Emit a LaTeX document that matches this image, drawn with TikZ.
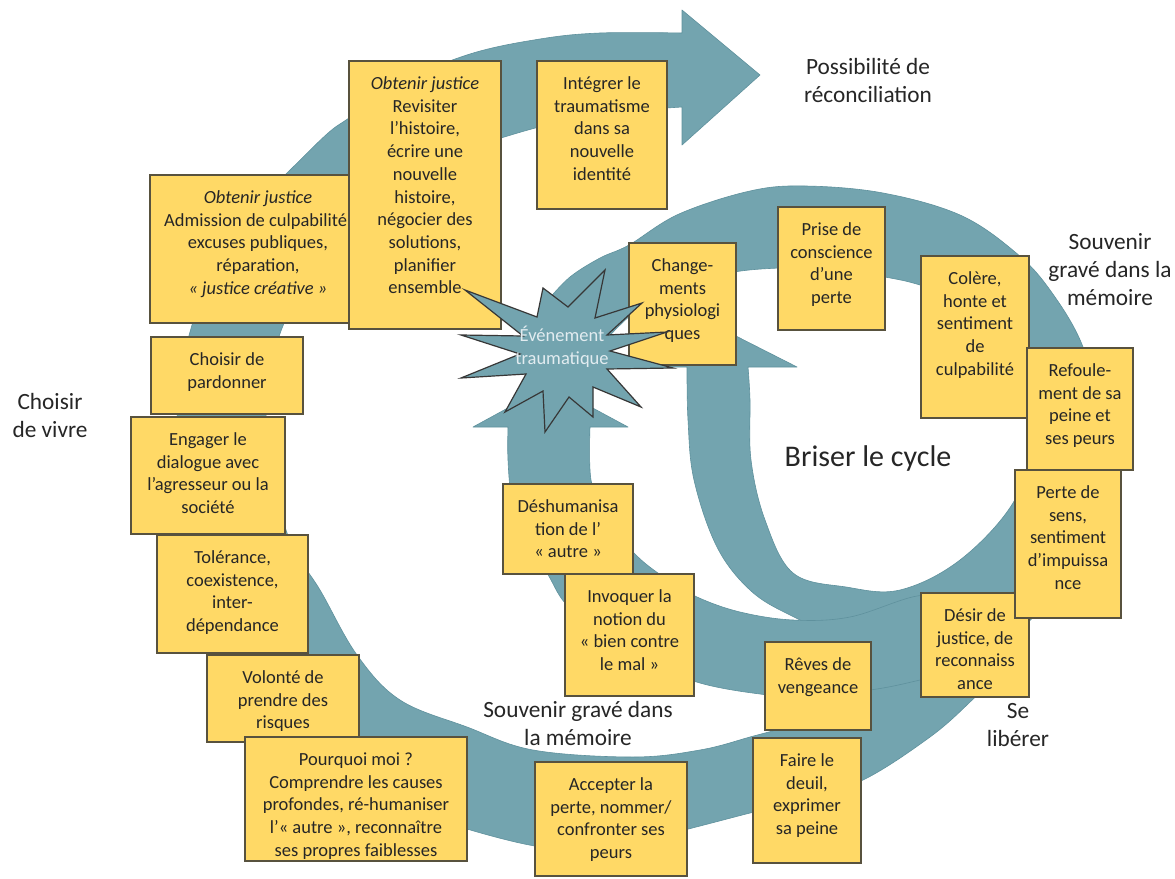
\documentclass[tikz,border=0pt]{standalone}
\usepackage{fontspec}
\setmainfont{Carlito}
\definecolor{teal1}{RGB}{115,164,175}
\definecolor{tealline}{RGB}{95,145,157}
\definecolor{boxfill}{RGB}{255,217,102}
\definecolor{boxline}{RGB}{88,82,62}
\definecolor{txt}{RGB}{38,38,38}
\definecolor{startxt}{RGB}{226,236,240}
\definecolor{starline}{RGB}{55,55,55}
\newcommand\yellowbox[6]{%
  \node[ybox, minimum width={(#4-#2)*1pt}, minimum height={(#5-#3)*1pt}] (#1) at ({(#2+#4)/2},{(#3+#5)/2}) {};
  \node[boxtext, anchor=base] (#1-t) at ([yshift=-28.5pt]#1.north) {\parbox[t]{300pt}{\centering #6}};
}
\begin{document}
\begin{tikzpicture}[x=1pt,y=-1pt,
  band/.style={fill=teal1, draw=tealline, line width=0.6pt, line join=round},
  ybox/.style={draw=boxline, fill=boxfill, line width=1.4pt, inner sep=0pt, outer sep=0pt},
  boxtext/.style={inner sep=0pt, text=txt, font=\fontsize{18.5}{22.7}\selectfont},
  lbl/.style={inner sep=0pt, text=txt, font=\fontsize{23.3}{28}\selectfont}]
\fill[white] (0,0) rectangle (1175,878);
\useasboundingbox (0,0) rectangle (1175,878);

% outer spiral (Choisir de vivre -> reconciliation)
\fill[band] plot[smooth, tension=0.6] coordinates {(1000,650) (990,680) (970,702) (930,737) (863,780) (800,800) (750,813) (650,838) (580,848) (535,846) (467,829) (400,806) (330,770) (275,722) (235,662) (205,595) (185,515) (177,440) (181,375) (192,325) (213,265) (245,213) (287,173) (327,134) (349,118) (400,83) (470,54) (540,39) (600,33) (682,33)}
  -- (682,10) -- (760,75) -- (682,145)
  -- plot[smooth, tension=0.6] coordinates {(682,107) (620,112) (560,122) (501,138) (420,165) (360,205) (320,255) (290,310) (275,350) (266,400) (270,450) (278,500) (293,548) (320,590) (357,655) (400,700) (467,727) (533,750) (633,757) (700,750) (750,737) (800,722) (860,693) (900,660) (950,615)}
  -- cycle;

% inner arrow (Briser le cycle)
\fill[band] plot[smooth, tension=0.6] coordinates {(1098,390) (1100,440) (1085,510) (1048,570) (990,620) (920,645) (850,640) (790,615) (750,590) (717,547) (694,480) (688,420) (687,367)}
  -- (664,367) -- (730,333) -- (797,367)
  -- plot[smooth, tension=0.6] coordinates {(748,367) (750,400) (751,460) (765,520) (793,573) (846,587) (900,590) (960,560) (1013,503) (1033,440) (1035,395)}
  -- cycle;

% cycle of violence
\fill[band] plot[smooth, tension=0.6] coordinates {(548,300) (570,277) (600,258) (629,245) (679,214) (750,191) (805,186) (883,193) (960,215) (1015,252) (1050,290) (1083,347) (1100,420) (1096,500) (1072,568) (1035,615) (1000,648) (965,668) (920,680) (870,690) (800,696) (760,694) (700,683) (640,660) (598,632) (565,603) (547,573) (525,540) (512,500) (508,460) (508,427)}
  -- (473,427) -- (550,385) -- (628,427)
  -- plot[smooth, tension=0.6] coordinates {(590,427) (591,480) (605,515) (634,553) (665,578) (697,597) (740,612) (793,620) (850,617) (917,596) (960,598) (1000,596) (1022,585) (1035,550) (1040,500) (1038,440) (1030,385) (1005,335) (970,303) (920,285) (885,277) (830,268) (780,268) (734,272) (690,283) (650,300) (615,330) (600,350)}
  -- cycle;

% boxes
\node[ybox, minimum width=200pt, minimum height=148pt] (admission) at (250,249) {};
\node[boxtext, anchor=base] (admission-t) at ([xshift=8pt,yshift=-28.5pt]admission.north) {\parbox[t]{300pt}{\centering \textit{Obtenir justice}\\Admission de culpabilité,\\excuses publiques,\\réparation,\\\textit{«~justice créative~»}}};
\yellowbox{revisiter}{349}{61}{501}{329}{\textit{Obtenir justice}\\Revisiter\\l’histoire,\\écrire une\\nouvelle\\histoire,\\négocier des\\solutions,\\planifier\\ensemble}
\yellowbox{integrer}{537}{61}{667}{209}{Intégrer le\\traumatisme\\dans sa\\nouvelle\\identité}
\yellowbox{pardon}{151}{337}{303}{414}{Choisir de\\pardonner}
\yellowbox{engager}{131}{417}{285}{534}{Engager le\\dialogue avec\\l’agresseur ou la\\société}
\yellowbox{tolerance}{157}{535}{308}{653}{Tolérance,\\coexistence,\\inter-\\dépendance}
\yellowbox{volonte}{207}{655}{359}{742}{Volonté de\\prendre des\\risques}
\yellowbox{pourquoi}{245}{737}{467}{861}{Pourquoi moi ?\\Comprendre les causes\\profondes, ré-humaniser\\l’«~autre~», reconnaître\\ses propres faiblesses}
\yellowbox{accepter}{535}{762}{687}{876}{Accepter la\\perte, nommer/\\confronter ses\\peurs}
\yellowbox{faire}{753}{738}{861}{863}{Faire le\\deuil,\\exprimer\\sa peine}
\yellowbox{reves}{765}{642}{871}{730}{Rêves de\\vengeance}
\yellowbox{desir}{921}{593}{1029}{697}{Désir de\\justice, de\\reconnaiss\\ance}
\yellowbox{perte}{1015}{470}{1121}{618}{Perte de\\sens,\\sentiment\\d’impuissa\\nce}
\yellowbox{colere}{921}{256}{1029}{418}{Colère,\\honte et\\sentiment\\de\\culpabilité}
\yellowbox{refoul}{1027}{348}{1133}{470}{Refoule-\\ment de sa\\peine et\\ses peurs}
\yellowbox{prise}{778}{207}{885}{330}{Prise de\\conscience\\d’une\\perte}
\yellowbox{change}{629}{243}{736}{365}{Change-\\ments\\physiologi\\ques}
\yellowbox{deshum}{503}{484}{633}{574}{Déshumanisa\\tion de l’\\«~autre~»}
\yellowbox{invoquer}{565}{574}{694}{696}{Invoquer la\\notion du\\«~bien contre\\le mal~»}

% star
\filldraw[fill=teal1, draw=starline, line width=1.2pt, line join=miter]
  (465,290) -- (537,317) -- (543,288) -- (568,307) -- (605,270) -- (595,318)
  -- (642,303) -- (607,335) -- (667,332) -- (610,351) -- (673,368) -- (607,369)
  -- (641,407) -- (593,387) -- (593,417) -- (569,397) -- (545,432) -- (543,391)
  -- (505,412) -- (526,374) -- (461,378) -- (520,354) -- (461,335) -- (523,336) -- cycle;
\node[inner sep=0pt, anchor=base, text=startxt, font=\fontsize{18.5}{23}\selectfont] (evt) at (562,341) {\parbox[t]{200pt}{\centering Événement\\traumatique}};

% labels
\node[lbl, anchor=base] (reconc) at (868,74) {\parbox[t]{300pt}{\centering Possibilité de\\réconciliation}};
\node[lbl, anchor=base] (souvR) at (1110,249) {\parbox[t]{300pt}{\centering Souvenir\\gravé dans la\\mémoire}};
\node[lbl, anchor=base] (vivre) at (50,409) {\parbox[t]{200pt}{\centering Choisir\\de vivre}};
\node[inner sep=0pt, anchor=base, text=txt, font=\fontsize{30}{36}\selectfont] (briser) at (868,466) {Briser le cycle};
\node[lbl, anchor=base] (souvB) at (578,717) {\parbox[t]{300pt}{\centering Souvenir gravé dans\\la mémoire}};
\node[lbl, anchor=base] (liberer) at (1018,718) {\parbox[t]{200pt}{\centering Se\\libérer}};
\end{tikzpicture}
\end{document}
